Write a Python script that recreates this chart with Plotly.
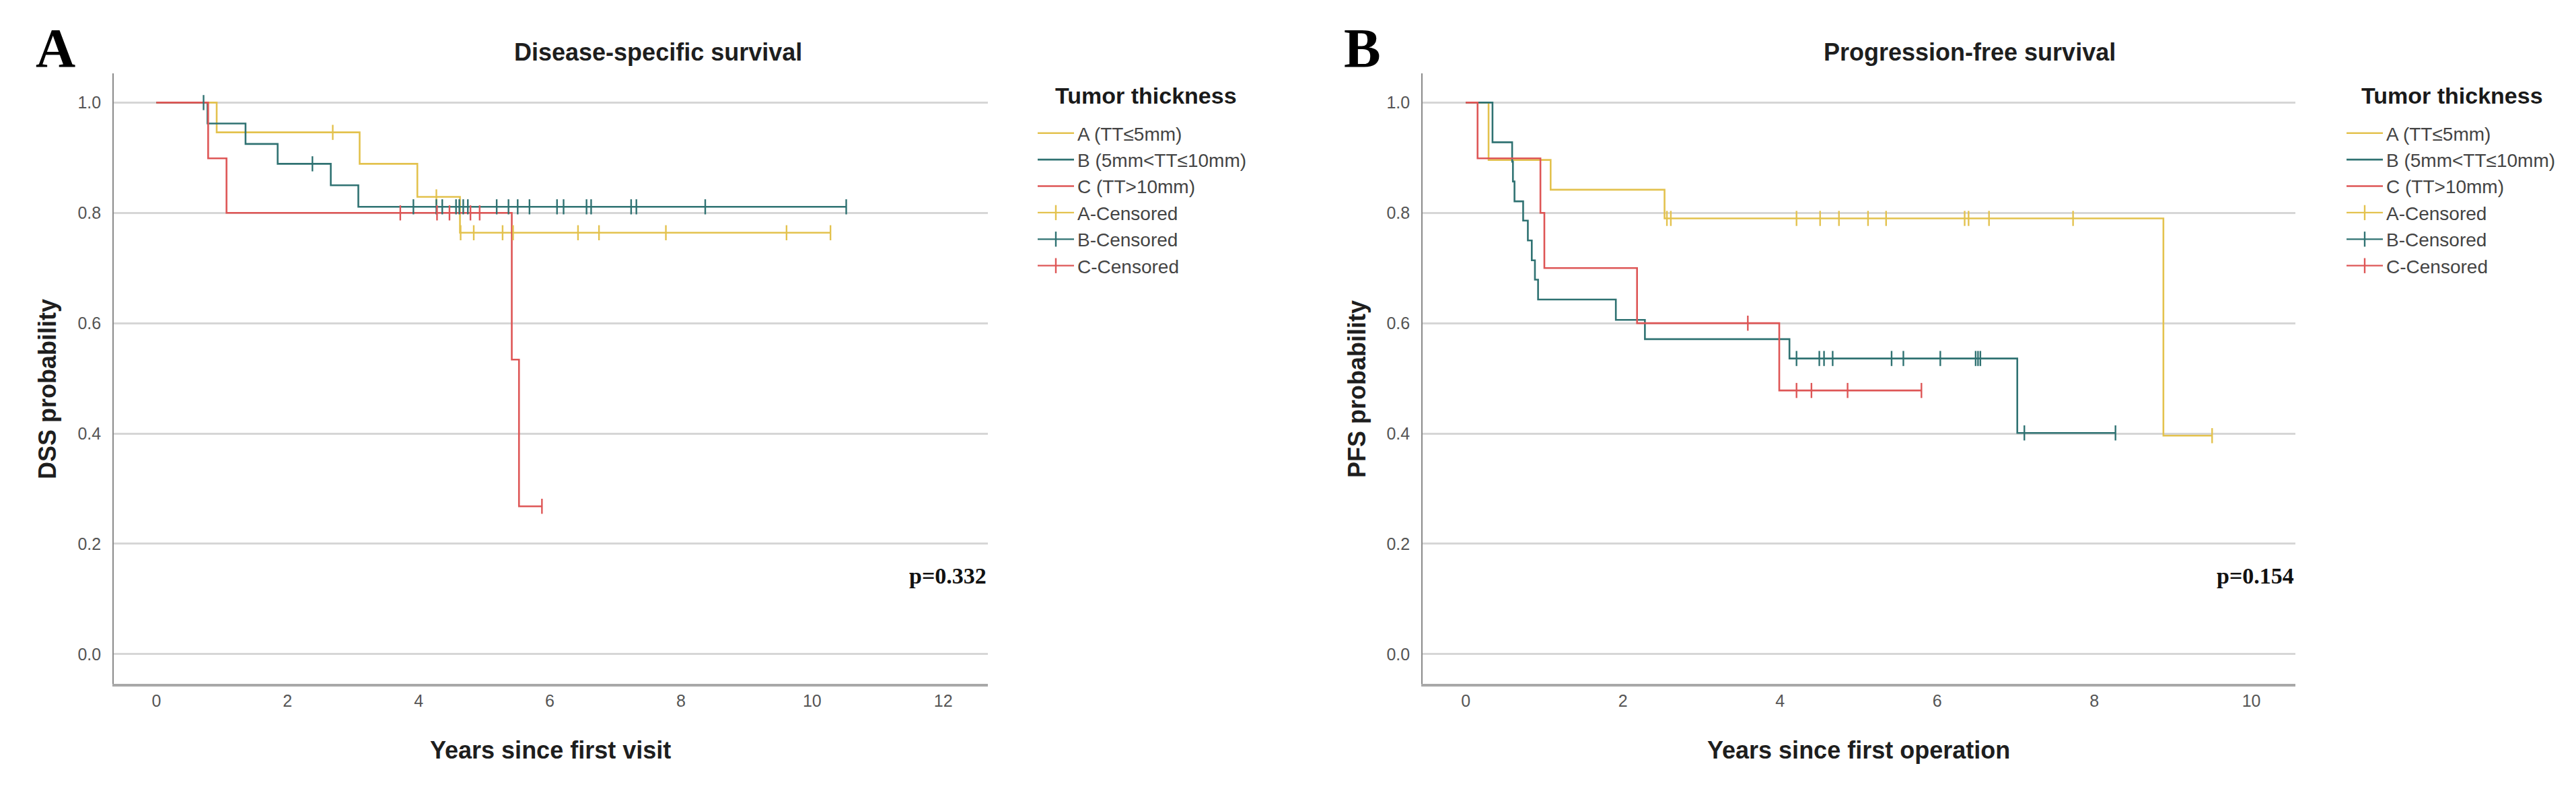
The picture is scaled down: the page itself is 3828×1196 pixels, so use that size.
import plotly.graph_objects as go

# ---------------- data ----------------
# Panel A: Disease-specific survival (years since first visit)
dss_A_time = [0, 0.92, 3.10, 3.98, 4.63, 10.28]
dss_A_surv = [1.0, 0.946, 0.889, 0.829, 0.764, 0.764]
dss_A_cens = [2.69, 4.27, 4.64, 4.84, 5.28, 5.44, 6.43, 6.75, 7.77, 9.61, 10.28]

dss_B_time = [0, 0.78, 1.36, 1.85, 2.66, 3.08, 10.52]
dss_B_surv = [1.0, 0.962, 0.925, 0.889, 0.850, 0.811, 0.811]
dss_B_cens = [0.72, 2.38, 3.92, 4.27, 4.36, 4.57, 4.62, 4.68, 4.75, 5.19, 5.37,
              5.51, 5.69, 6.11, 6.21, 6.56, 6.63, 7.24, 7.32, 8.37, 10.52]

dss_C_time = [0, 0.79, 1.07, 5.42, 5.53, 5.88]
dss_C_surv = [1.0, 0.899, 0.80, 0.534, 0.268, 0.268]
dss_C_cens = [3.72, 4.28, 4.47, 4.79, 4.93, 5.88]

# Panel B: Progression-free survival (years since first operation)
pfs_A_time = [0, 0.29, 1.08, 2.53, 8.88, 9.50]
pfs_A_surv = [1.0, 0.896, 0.842, 0.790, 0.396, 0.396]
pfs_A_cens = [2.56, 2.61, 4.21, 4.51, 4.75, 5.12, 5.35, 6.35, 6.40, 6.66, 7.73, 9.50]

pfs_B_time = [0, 0.34, 0.59, 0.60, 0.62, 0.73, 0.79, 0.84, 0.88, 0.92, 1.91, 2.28, 4.12, 7.02, 8.27]
pfs_B_surv = [1.0, 0.928, 0.893, 0.857, 0.821, 0.786, 0.750, 0.714, 0.679, 0.643,
              0.606, 0.571, 0.536, 0.401, 0.401]
pfs_B_cens = [4.21, 4.50, 4.56, 4.67, 5.42, 5.57, 6.04, 6.49, 6.52, 6.55, 7.11, 8.27]

pfs_C_time = [0, 0.15, 0.95, 1.00, 2.18, 3.99, 5.80]
pfs_C_surv = [1.0, 0.899, 0.80, 0.70, 0.60, 0.478, 0.478]
pfs_C_cens = [3.59, 4.21, 4.40, 4.86, 5.80]

group_names = ["A (TT≤5mm)", "B (5mm&lt;TT≤10mm)", "C (TT&gt;10mm)"]
censor_names = ["A-Censored", "B-Censored", "C-Censored"]
legend_title = "Tumor thickness"
y_ticks = [0.0, 0.2, 0.4, 0.6, 0.8, 1.0]
x_ticks_A = [0, 2, 4, 6, 8, 10, 12]
x_ticks_B = [0, 2, 4, 6, 8, 10]
p_values = ["p=0.332", "p=0.154"]

colors = ["#E3C24E", "#2F7272", "#DE5656"]


def level_at(times, surv, t):
    val = surv[0]
    for ti, si in zip(times, surv):
        if ti <= t:
            val = si
    return val


def gapped(xs, ys):
    gx, gy = [], []
    for x, y in zip(xs, ys):
        gx += [x, None]
        gy += [y, None]
    return gx, gy


fig = go.Figure()

panels = [
    ("x", "y", "legend",
     [(dss_A_time, dss_A_surv, dss_A_cens),
      (dss_B_time, dss_B_surv, dss_B_cens),
      (dss_C_time, dss_C_surv, dss_C_cens)]),
    ("x2", "y2", "legend2",
     [(pfs_A_time, pfs_A_surv, pfs_A_cens),
      (pfs_B_time, pfs_B_surv, pfs_B_cens),
      (pfs_C_time, pfs_C_surv, pfs_C_cens)]),
]

for xa, ya, lg, groups in panels:
    # survival step curves
    for i, (tt, ss, cc) in enumerate(groups):
        fig.add_trace(go.Scatter(
            x=tt, y=ss, mode="lines", line=dict(color=colors[i], width=2.6, shape="hv"),
            name=group_names[i], xaxis=xa, yaxis=ya, legend=lg, hoverinfo="skip"))
    # censor marks
    for i, (tt, ss, cc) in enumerate(groups):
        cy = [level_at(tt, ss, c) for c in cc]
        gx, gy = gapped(cc, cy)
        fig.add_trace(go.Scatter(
            x=gx, y=gy, mode="lines+markers", connectgaps=False,
            line=dict(color=colors[i], width=2.2),
            marker=dict(symbol="line-ns", size=16, color=colors[i],
                        line=dict(color=colors[i], width=2.4)),
            name=censor_names[i], xaxis=xa, yaxis=ya, legend=lg, hoverinfo="skip"))

W, H = 3828, 1196
tick_font = dict(family="Liberation Sans, Arial, sans-serif", size=25, color="#555555")

common_y = dict(range=[-0.054, 1.053], tickvals=y_ticks, ticktext=[f"{v:.1f}" for v in y_ticks],
                showgrid=True, gridcolor="#D6D6D6", gridwidth=3, zeroline=False,
                showline=True, linecolor="#8A8A8A", linewidth=1.6, ticks="",
                tickfont=tick_font, ticklabelstandoff=12, domain=[1 - 1008 / H, 1 - 101 / H])
common_x = dict(showgrid=False, zeroline=False, showline=True, linecolor="#A8A8A8", linewidth=3.5,
                ticks="", tickfont=tick_font, ticklabelstandoff=0)

legend_common = dict(
    xanchor="left", yanchor="top", itemwidth=54,
    font=dict(family="Liberation Sans, Arial, sans-serif", size=28, color="#444444"),
    bgcolor="rgba(0,0,0,0)", tracegroupgap=0)

fig.update_layout(
    width=W, height=H,
    margin=dict(l=0, r=0, t=0, b=0),
    paper_bgcolor="white", plot_bgcolor="white",
    xaxis=dict(common_x, range=[-0.65, 12.68], tickvals=x_ticks_A, domain=[161 / W, 1460 / W], anchor="y"),
    yaxis=dict(common_y, anchor="x"),
    xaxis2=dict(common_x, range=[-0.55, 10.56], tickvals=x_ticks_B, domain=[2106 / W, 3403 / W], anchor="y2"),
    yaxis2=dict(common_y, anchor="x2"),
    legend=dict(legend_common, x=1529 / W, y=1 - 165 / H),
    legend2=dict(legend_common, x=3474 / W, y=1 - 165 / H),
    showlegend=True,
)

sans_bold = dict(family="Liberation Sans, Arial, sans-serif", size=36, color="#1e1e1e")
legend_title_font = dict(family="Liberation Sans, Arial, sans-serif", size=34, color="#1a1a1a")
serif_big = dict(family="Liberation Serif, Times New Roman, serif", size=82, color="#000000")
serif_p = dict(family="Liberation Serif, Times New Roman, serif", size=34, color="#111111")

annotations = [
    # panel letters
    dict(text="<b>A</b>", x=74 / W, y=1 - 64 / H, font=serif_big),
    dict(text="<b>B</b>", x=2017 / W, y=1 - 64 / H, font=serif_big),
    # chart titles
    dict(text="<b>Disease-specific survival</b>", x=970 / W, y=1 - 70 / H, font=sans_bold),
    dict(text="<b>Progression-free survival</b>", x=2919 / W, y=1 - 70 / H, font=sans_bold),
    # x axis titles
    dict(text="<b>Years since first visit</b>", x=810 / W, y=1 - 1106 / H, font=sans_bold),
    dict(text="<b>Years since first operation</b>", x=2754 / W, y=1 - 1106 / H, font=sans_bold),
    # y axis titles
    dict(text="<b>DSS probability</b>", x=62 / W, y=1 - 570 / H, textangle=-90, font=sans_bold),
    dict(text="<b>PFS probability</b>", x=2008 / W, y=1 - 570 / H, textangle=-90, font=sans_bold),
]
for a in annotations:
    a.update(xref="paper", yref="paper", showarrow=False, xanchor="center", yanchor="middle")
    fig.add_annotation(**a)

# legend titles
for lx in (1558, 3499):
    fig.add_annotation(text="<b>" + legend_title + "</b>", xref="paper", yref="paper",
                       x=lx / W, y=1 - 134 / H, xanchor="left", yanchor="middle",
                       showarrow=False, font=legend_title_font)

# p-values (right aligned at the right edge of each plot area)
fig.add_annotation(text="<b>" + p_values[0] + "</b>", xref="x domain", yref="y", x=1.0, y=0.142,
                   xanchor="right", yanchor="middle", showarrow=False, font=serif_p)
fig.add_annotation(text="<b>" + p_values[1] + "</b>", xref="x2 domain", yref="y2", x=1.0, y=0.142,
                   xanchor="right", yanchor="middle", showarrow=False, font=serif_p)

fig.write_html("out.html")
